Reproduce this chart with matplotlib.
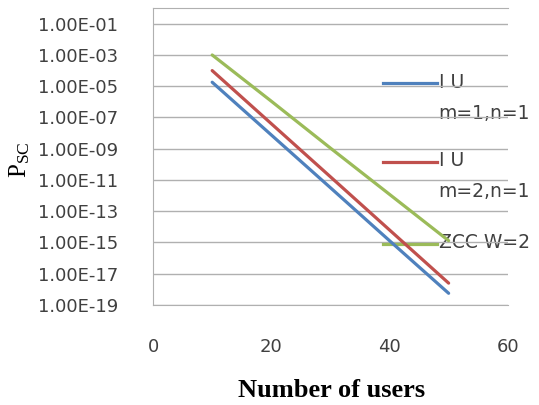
import matplotlib
matplotlib.use('Agg')
from matplotlib import pyplot as plt
from matplotlib.lines import Line2D
import numpy as np

plt.rcParams['font.family'] = ['DejaVu Sans']
plt.rcParams['mathtext.fontset'] = 'custom'
plt.rcParams['mathtext.rm'] = 'Liberation Serif'

users = [10, 20, 30, 40, 50]
iu_m1 = [1.8e-05, 7.6e-09, 3.2e-12, 1.3e-15, 5.6e-19]
iu_m2 = [1.0e-04, 4.0e-08, 1.6e-11, 6.3e-15, 2.5e-18]
zcc_w2 = [1.0e-03, 1.1e-06, 1.1e-09, 1.2e-12, 1.3e-15]
labels = ['I U\nm=1,n=1', 'I U\nm=2,n=1', 'ZCC W=2']
colors = ['#4f81bd', '#c0504d', '#9bbb59']
yticks = [1e-19, 1e-17, 1e-15, 1e-13, 1e-11, 1e-09, 1e-07, 1e-05, 1e-03, 1e-01]

fig = plt.figure(figsize=(5.39, 4.05), dpi=100)
ax = fig.add_axes([0.284, 0.247, 0.658, 0.733])

for ys, c in zip([iu_m1, iu_m2, zcc_w2], colors):
    ax.plot(users, ys, color=c, lw=2.3, solid_capstyle='round', zorder=3)

ax.set_yscale('log')
ax.set_ylim(1e-19, 1e0)
ax.set_xlim(0, 60)
ax.set_yticks(yticks)
ax.set_yticklabels(['%.2fE-%02d' % (1.0, -int(round(np.log10(t)))) for t in yticks])
ax.minorticks_off()
ax.set_xticks([0, 20, 40, 60])
ax.tick_params(length=0, labelsize=13, colors='#404040')
ax.tick_params(axis='y', pad=25)
ax.tick_params(axis='x', pad=24)
ax.grid(axis='y', color='#b0b0b0', lw=1)
ax.spines['right'].set_visible(False)
for s in ['left', 'bottom', 'top']:
    ax.spines[s].set_color('#b0b0b0')

ax.set_xlabel('Number of users', family='Liberation Serif', fontweight='bold', fontsize=19)
ax.xaxis.set_label_coords(0.504, -0.25)
ax.set_ylabel(r'$\mathrm{P_{SC}}$', fontsize=18, rotation=90)
ax.yaxis.set_label_coords(-0.34, 0.49)

# legend drawn by hand so the line sits on the first text row
leg_y = [0.747, 0.481, 0.205]
for y, c, lab in zip(leg_y, colors, labels):
    ax.add_line(Line2D([0.648, 0.80], [y, y], transform=ax.transAxes, color=c, lw=2.3,
                       clip_on=False, zorder=2))
    ax.text(0.805, y + 0.036, lab, transform=ax.transAxes, fontsize=13.5, color='#404040',
            va='top', ha='left', linespacing=1.8, zorder=1)

fig.savefig('out.png', dpi=100)
